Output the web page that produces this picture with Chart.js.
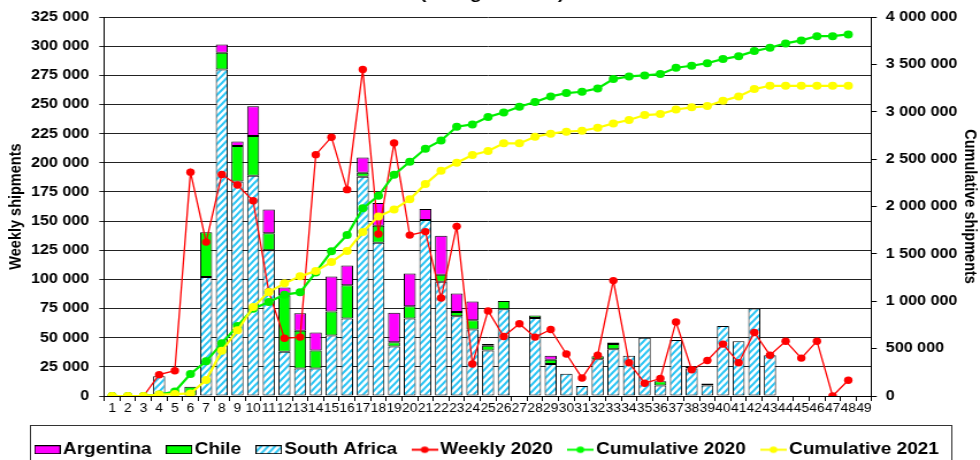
<!DOCTYPE html>
<html><head><meta charset="utf-8">
<script src="https://cdn.jsdelivr.net/npm/chart.js@4/dist/chart.umd.min.js"></script>
<style>
html,body{margin:0;padding:0;width:980px;height:460px;overflow:hidden;background:#fff;}
#wrap{position:absolute;left:0;top:0;width:852px;height:468px;transform:scaleX(1.150235);transform-origin:0 0;}
</style></head><body>
<div id="wrap"><canvas id="c"></canvas></div>
<script>
const weeks = ['1','2','3','4','5','6','7','8','9','10','11','12','13','14','15','16','17','18','19','20','21','22','23','24','25','26','27','28','29','30','31','32','33','34','35','36','37','38','39','40','41','42','43','44','45','46','47','48','49'];

const southAfrica = [null,null,null,17000,null,null,102000,280000,184000,189000,125000,38000,23500,23500,52000,66500,188000,131500,42500,66500,151000,98000,68500,57000,39000,74500,null,67000,27500,19000,8500,31500,40000,34500,50000,9000,48000,23500,9000,60000,47000,75000,35000,null,null,null,null,null,null];
const chile = [null,null,null,null,null,8000,38500,14500,30500,34000,14500,48500,32500,15500,20500,28500,3500,14500,3500,10500,null,6000,3500,8000,4000,7000,null,2000,3500,null,null,2500,4500,null,null,3700,null,null,null,null,null,null,null,null,null,null,null,null,null];
const argentina = [null,null,null,null,null,null,null,7000,3700,25500,20500,6500,15000,15500,30000,17000,13000,19500,25500,28000,9500,33500,16000,16000,1700,null,null,null,3500,null,null,null,1400,null,null,null,null,1700,1800,null,null,null,null,null,null,null,null,null,null];
const weekly2020 = [0,0,0,18300,21700,192000,132000,190000,181000,167500,89500,49500,50500,207000,222000,177000,280000,139000,217000,138000,141000,84000,145500,27500,73000,51000,62000,50500,57000,36000,15500,35000,99000,28500,11000,15000,63500,22500,30500,44500,28500,54500,35000,47000,32500,47000,0,13500,null];
const cumulative2020 = [0,0,0,15000,48000,232000,366000,556000,739000,922000,992000,1070000,1094000,1305000,1527000,1699000,1981000,2114000,2336000,2473000,2610000,2698000,2843000,2867000,2945000,2994000,3054000,3103000,3163000,3198000,3212000,3247000,3346000,3374000,3384000,3398000,3465000,3486000,3514000,3557000,3588000,3641000,3676000,3722000,3754000,3799000,3799000,3817000,null];
const cumulative2021 = [0,0,0,15000,20000,27000,169000,478000,693000,939000,1098000,1189000,1263000,1319000,1414000,1530000,1731000,1896000,1970000,2076000,2237000,2378000,2463000,2544000,2586000,2667000,2667000,2737000,2769000,2790000,2800000,2832000,2878000,2913000,2966000,2976000,3025000,3047000,3061000,3117000,3163000,3240000,3275000,3275000,3275000,3275000,3275000,3275000,null];

const leftTicks = {min: 0, max: 325000, step: 25000};
const rightTicks = {min: 0, max: 4000000, step: 500000};
const titleText = '(4.5 kg cartons)';

const FONT = "'Liberation Sans', Arial, sans-serif";
Chart.defaults.font.family = FONT;
Chart.defaults.color = '#000';

function stripeTile() {
  const w = 6, h = 7;
  const c = document.createElement('canvas'); c.width = w; c.height = h;
  const g = c.getContext('2d');
  g.fillStyle = '#fff'; g.fillRect(0, 0, w, h);
  g.strokeStyle = '#2cc6f5'; g.lineWidth = 2.1;
  g.beginPath();
  for (let k = -1; k <= 1; k++) {
    g.moveTo(k * w - w / h, h + 1);
    g.lineTo(k * w + w + w / h, -1);
  }
  g.stroke();
  return c;
}
const tile = stripeTile();
const ctxMain = document.getElementById('c').getContext('2d');
const saPattern = ctxMain.createPattern(tile, 'repeat');

function boxIcon(fill) {
  const c = document.createElement('canvas'); c.width = 23; c.height = 9;
  const g = c.getContext('2d');
  if (fill === 'pattern') g.fillStyle = g.createPattern(tile, 'repeat'); else g.fillStyle = fill;
  g.fillRect(0.5, 0.5, 22, 8);
  g.strokeStyle = '#000'; g.lineWidth = 1; g.strokeRect(0.5, 0.5, 22, 8);
  return c;
}
function lineIcon(color) {
  const c = document.createElement('canvas'); c.width = 23; c.height = 9;
  const g = c.getContext('2d');
  g.strokeStyle = color; g.lineWidth = 2;
  g.beginPath(); g.moveTo(0, 4.5); g.lineTo(23, 4.5); g.stroke();
  g.fillStyle = color; g.beginPath(); g.arc(11.5, 4.5, 3.3, 0, Math.PI * 2); g.fill();
  return c;
}
const icons = [boxIcon('pattern'), boxIcon('#00ff00'), boxIcon('#ff00ff'), lineIcon('#ff0000'), lineIcon('#00ff00'), lineIcon('#ffff00')];
const legendRank = {2: 0, 1: 1, 0: 2, 3: 3, 4: 4, 5: 5};

const fmt = v => String(v).replace(/\B(?=(\d{3})+(?!\d))/g, ' ');

const extras = {
  id: 'extras',
  afterDraw(chart) {
    const g = chart.ctx;
    g.save();
    g.strokeStyle = '#333'; g.lineWidth = 1;
    g.strokeRect(26.5, 425.5, 801, 60);
    g.fillStyle = '#000';
    g.font = 'bold 17px ' + FONT;
    g.textAlign = 'center'; g.textBaseline = 'alphabetic';
    g.fillText(titleText, 427.8, -1);
    g.restore();
  }
};

new Chart(document.getElementById('c'), {
  type: 'bar',
  data: {
    labels: weeks,
    datasets: [
      {label: 'South Africa', data: southAfrica, backgroundColor: saPattern, borderColor: '#000', borderWidth: 1, borderSkipped: false, yAxisID: 'y', stack: 'bars'},
      {label: 'Chile', data: chile, backgroundColor: '#00ff00', borderColor: '#000', borderWidth: 1, borderSkipped: false, yAxisID: 'y', stack: 'bars'},
      {label: 'Argentina', data: argentina, backgroundColor: '#ff00ff', borderColor: '#000', borderWidth: 1, borderSkipped: false, yAxisID: 'y', stack: 'bars'},
      {type: 'line', label: 'Weekly 2020', data: weekly2020, borderColor: '#ff0000', backgroundColor: '#ff0000', borderWidth: 1.3, pointRadius: 3.7, pointBorderWidth: 0, pointBackgroundColor: '#ff0000', yAxisID: 'y', stack: 'w20', order: -1, spanGaps: true},
      {type: 'line', label: 'Cumulative 2020', data: cumulative2020, borderColor: '#00ee00', backgroundColor: '#00ee00', borderWidth: 2.2, pointRadius: 4, pointBorderWidth: 0, pointBackgroundColor: '#00ee00', yAxisID: 'y1', order: -2, spanGaps: true},
      {type: 'line', label: 'Cumulative 2021', data: cumulative2021, borderColor: '#ffff00', backgroundColor: '#ffff00', borderWidth: 2.2, pointRadius: 4, pointBorderWidth: 0, pointBackgroundColor: '#ffff00', yAxisID: 'y1', order: -3, spanGaps: true}
    ]
  },
  options: {
    responsive: true,
    maintainAspectRatio: false,
    animation: false,
    layout: {padding: {top: 16.8, left: 0, right: 0, bottom: 0}},
    datasets: {bar: {barPercentage: 0.77, categoryPercentage: 1}},
    plugins: {
      tooltip: {enabled: false},
      title: {display: false},
      legend: {
        position: 'bottom',
        labels: {
          usePointStyle: true,
          pointStyleWidth: 10.7,
          padding: 18.6,
          color: '#000',
          font: {family: FONT, size: 16.5, weight: 'bold'},
          sort: (a, b) => legendRank[a.datasetIndex] - legendRank[b.datasetIndex],
          generateLabels(chart) {
            const items = Chart.defaults.plugins.legend.labels.generateLabels(chart);
            items.forEach(it => { it.pointStyle = icons[it.datasetIndex]; it.lineWidth = 0; });
            return items;
          }
        }
      }
    },
    scales: {
      x: {
        stacked: true,
        offset: true,
        afterFit(s) { s.height = 26.9; },
        grid: {drawOnChartArea: false, drawTicks: true, tickLength: 5, color: '#000', offset: true},
        border: {color: '#000', width: 1},
        ticks: {autoSkip: false, maxRotation: 0, minRotation: 0, padding: 0, color: '#000', font: {family: FONT, size: 12}}
      },
      y: {
        position: 'left',
        stacked: true,
        min: leftTicks.min, max: leftTicks.max,
        afterFit(s) { s.width = 90.7; },
        grid: {color: '#222', lineWidth: 1, tickLength: 4.35, drawTicks: true},
        border: {color: '#000', width: 1},
        ticks: {stepSize: leftTicks.step, padding: 8.7, color: '#000', font: {family: FONT, size: 14, weight: 'bold'}, callback: v => fmt(v)},
        title: {display: true, text: 'Weekly shipments', color: '#000', font: {family: FONT, size: 14.5, weight: 'bold'}, padding: {top: 5.2, bottom: 0}}
      },
      y1: {
        position: 'right',
        min: rightTicks.min, max: rightTicks.max,
        afterFit(s) { s.width = 94.1; },
        grid: {drawOnChartArea: false, color: '#000', tickLength: 4.35, drawTicks: true},
        border: {color: '#000', width: 1},
        ticks: {stepSize: rightTicks.step, padding: 7.85, color: '#000', font: {family: FONT, size: 14, weight: 'bold'}, callback: v => fmt(v)},
        title: {display: true, text: 'Cumulative shipments', color: '#000', font: {family: FONT, size: 14.5, weight: 'bold'}, padding: {top: 0, bottom: 0}}
      }
    }
  },
  plugins: [extras]
});
</script>
</body></html>
